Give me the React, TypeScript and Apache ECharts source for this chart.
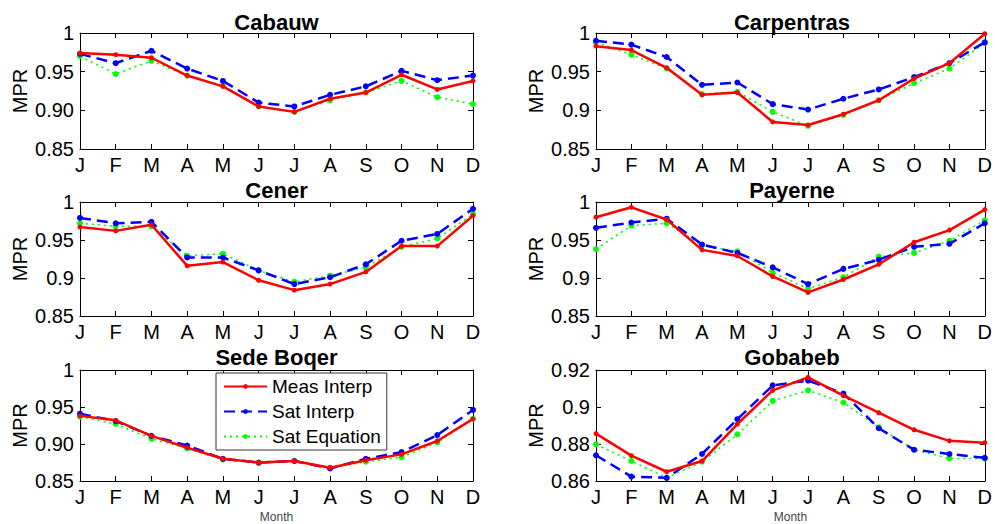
import React, { useEffect, useRef } from "react";
import * as echarts from "echarts";

const months = ["J", "F", "M", "A", "M", "J", "J", "A", "S", "O", "N", "D"];
const seriesNames = ["Meas Interp", "Sat Interp", "Sat Equation"];
const stations = ["Cabauw", "Carpentras", "Cener", "Payerne", "Sede Boqer", "Gobabeb"];

const cabauwMeas = [0.974, 0.972, 0.968, 0.945, 0.931, 0.905, 0.898, 0.915, 0.923, 0.946, 0.927, 0.938];
const cabauwSatInterp = [0.973, 0.961, 0.977, 0.954, 0.938, 0.910, 0.905, 0.920, 0.931, 0.951, 0.939, 0.945];
const cabauwSatEq = [0.970, 0.947, 0.964, 0.945, 0.932, 0.905, 0.898, 0.913, 0.923, 0.938, 0.917, 0.908];

const carpentrasMeas = [0.983, 0.978, 0.955, 0.920, 0.923, 0.885, 0.881, 0.895, 0.913, 0.941, 0.961, 0.999];
const carpentrasSatInterp = [0.990, 0.985, 0.969, 0.933, 0.936, 0.908, 0.901, 0.915, 0.927, 0.943, 0.961, 0.988];
const carpentrasSatEq = [0.988, 0.972, 0.954, 0.921, 0.924, 0.898, 0.880, 0.894, 0.913, 0.935, 0.954, 0.987];

const cenerMeas = [0.967, 0.962, 0.970, 0.916, 0.921, 0.897, 0.884, 0.892, 0.908, 0.942, 0.942, 0.982];
const cenerSatInterp = [0.979, 0.972, 0.974, 0.927, 0.927, 0.910, 0.892, 0.901, 0.918, 0.949, 0.958, 0.991];
const cenerSatEq = [0.972, 0.968, 0.968, 0.929, 0.932, 0.910, 0.895, 0.903, 0.914, 0.941, 0.952, 0.984];

const payerneMeas = [0.980, 0.993, 0.977, 0.937, 0.929, 0.902, 0.881, 0.898, 0.918, 0.947, 0.963, 0.990];
const payerneSatInterp = [0.966, 0.973, 0.978, 0.944, 0.933, 0.914, 0.892, 0.912, 0.924, 0.941, 0.945, 0.972];
const payerneSatEq = [0.938, 0.969, 0.972, 0.943, 0.935, 0.907, 0.886, 0.901, 0.928, 0.933, 0.949, 0.976];

const sedeMeas = [0.938, 0.932, 0.911, 0.895, 0.880, 0.875, 0.877, 0.868, 0.878, 0.886, 0.904, 0.934];
const sedeSatInterp = [0.941, 0.931, 0.911, 0.898, 0.880, 0.875, 0.877, 0.867, 0.880, 0.889, 0.912, 0.946];
const sedeSatEq = [0.937, 0.927, 0.907, 0.894, 0.879, 0.874, 0.877, 0.868, 0.876, 0.882, 0.902, 0.934];

const gobabebMeas = [0.8856, 0.8737, 0.8650, 0.8708, 0.8908, 0.9090, 0.9160, 0.9061, 0.8969, 0.8877, 0.8817, 0.8807];
const gobabebSatInterp = [0.8739, 0.8624, 0.8617, 0.8746, 0.8934, 0.9117, 0.9143, 0.9073, 0.8885, 0.8769, 0.8746, 0.8725];
const gobabebSatEq = [0.8798, 0.8708, 0.8617, 0.8704, 0.8852, 0.9033, 0.9090, 0.9024, 0.8890, 0.8769, 0.8722, 0.8722];

const cabauwTicks = ["0.85", "0.90", "0.95", "1"];
const carpentrasTicks = ["0.85", "0.9", "0.95", "1"];
const cenerTicks = ["0.85", "0.9", "0.95", "1"];
const payerneTicks = ["0.85", "0.9", "0.95", "1"];
const sedeTicks = ["0.85", "0.90", "0.95", "1"];
const gobabebTicks = ["0.86", "0.88", "0.9", "0.92"];

const stationData = [
  [cabauwMeas, cabauwSatInterp, cabauwSatEq],
  [carpentrasMeas, carpentrasSatInterp, carpentrasSatEq],
  [cenerMeas, cenerSatInterp, cenerSatEq],
  [payerneMeas, payerneSatInterp, payerneSatEq],
  [sedeMeas, sedeSatInterp, sedeSatEq],
  [gobabebMeas, gobabebSatInterp, gobabebSatEq],
];
const stationTicks = [cabauwTicks, carpentrasTicks, cenerTicks, payerneTicks, sedeTicks, gobabebTicks];
const yRanges = [
  [0.85, 1, 0.05],
  [0.85, 1, 0.05],
  [0.85, 1, 0.05],
  [0.85, 1, 0.05],
  [0.85, 1, 0.05],
  [0.86, 0.92, 0.02],
];

const FONT = "'Liberation Sans', Arial, Helvetica, sans-serif";
const colLeft = [80, 596];
const colWidth = [393, 392];
const rowTop = [33, 202, 370];
const rowHeight = [116, 114, 112];
const titleTop = [11, 179, 346];

const lineStyles = [
  { color: "#ff0000", width: 2.5, type: "solid" as any, symbolSize: 5 },
  { color: "#0000ff", width: 2.5, type: [11, 6] as any, symbolSize: 6 },
  { color: "#00ff00", width: 1.6, type: [2, 4] as any, symbolSize: 6 },
];

export default function App() {
  const ref = useRef<HTMLDivElement>(null);
  useEffect(() => {
    if (!ref.current) return;
    const chart = echarts.init(ref.current, undefined, { renderer: "svg" });
    const grids: any[] = [];
    const xAxes: any[] = [];
    const yAxes: any[] = [];
    const series: any[] = [];
    const titles: any[] = [];
    stations.forEach((name, i) => {
      const r = Math.floor(i / 2);
      const c = i % 2;
      grids.push({
        left: colLeft[c],
        top: rowTop[r],
        width: colWidth[c],
        height: rowHeight[r],
        containLabel: false,
      });
      titles.push({
        text: name,
        left: colLeft[c] + colWidth[c] / 2,
        top: titleTop[r],
        textAlign: "center",
        padding: 0,
        textStyle: { fontFamily: FONT, fontWeight: "bold", fontSize: 22, color: "#000" },
      });
      const axisLine = { show: true, lineStyle: { color: "#000", width: 1 } };
      const isBottom = r === 2;
      xAxes.push({
        gridIndex: i,
        type: "category",
        data: months,
        boundaryGap: false,
        position: "bottom",
        axisLine,
        axisTick: { show: true, inside: true, length: 5, lineStyle: { color: "#000" } },
        axisLabel: { fontFamily: FONT, fontSize: 20, color: "#000", margin: 6, interval: 0 },
        splitLine: { show: false },
        name: isBottom ? "Month" : "",
        nameLocation: "middle",
        nameGap: 30,
        nameTextStyle: { fontFamily: FONT, fontSize: 12, color: "#444" },
      });
      xAxes.push({
        gridIndex: i,
        type: "category",
        data: months,
        boundaryGap: false,
        position: "top",
        axisLine,
        axisTick: { show: true, inside: true, length: 5, lineStyle: { color: "#000" } },
        axisLabel: { show: false },
        splitLine: { show: false },
      });
      const [mn, mx, iv] = yRanges[i];
      const ticks = stationTicks[i];
      yAxes.push({
        gridIndex: i,
        type: "value",
        min: mn,
        max: mx,
        interval: iv,
        position: "left",
        axisLine,
        axisTick: { show: true, inside: true, length: 5, lineStyle: { color: "#000" } },
        axisLabel: {
          fontFamily: FONT,
          fontSize: 20,
          color: "#000",
          margin: 6,
          formatter: (v: number) => ticks[Math.round((v - mn) / iv)] ?? "",
        },
        splitLine: { show: false },
        name: "MPR",
        nameLocation: "middle",
        nameRotate: 90,
        nameGap: 50,
        nameTextStyle: { fontFamily: FONT, fontSize: 20, color: "#000" },
      });
      yAxes.push({
        gridIndex: i,
        type: "value",
        min: mn,
        max: mx,
        interval: iv,
        position: "right",
        axisLine,
        axisTick: { show: true, inside: true, length: 5, lineStyle: { color: "#000" } },
        axisLabel: { show: false },
        splitLine: { show: false },
      });
      stationData[i].forEach((vals, k) => {
        const st = lineStyles[k];
        series.push({
          name: seriesNames[k],
          type: "line",
          xAxisIndex: i * 2,
          yAxisIndex: i * 2,
          data: vals,
          symbol: "circle",
          symbolSize: st.symbolSize,
          showSymbol: true,
          itemStyle: { color: st.color },
          lineStyle: { color: st.color, width: st.width, type: st.type },
          z: 10 - k,
        });
      });
    });
    chart.setOption({
      animation: false,
      backgroundColor: "#fff",
      title: titles,
      grid: grids,
      xAxis: xAxes,
      yAxis: yAxes,
      series,
      legend: {
        data: seriesNames,
        orient: "vertical",
        left: 216,
        top: 373,
        itemWidth: 43,
        itemHeight: 6,
        itemGap: 6,
        padding: [4, 6, 4, 7],
        borderColor: "#333",
        borderWidth: 1,
        borderRadius: 0,
        backgroundColor: "#fff",
        textStyle: { fontFamily: FONT, fontSize: 19, color: "#000" },
        selectedMode: false,
      },
    });
    return () => chart.dispose();
  }, []);
  return (
    <div
      ref={ref}
      style={{ position: "absolute", left: 0, top: 0, width: 995, height: 524 }}
    />
  );
}
